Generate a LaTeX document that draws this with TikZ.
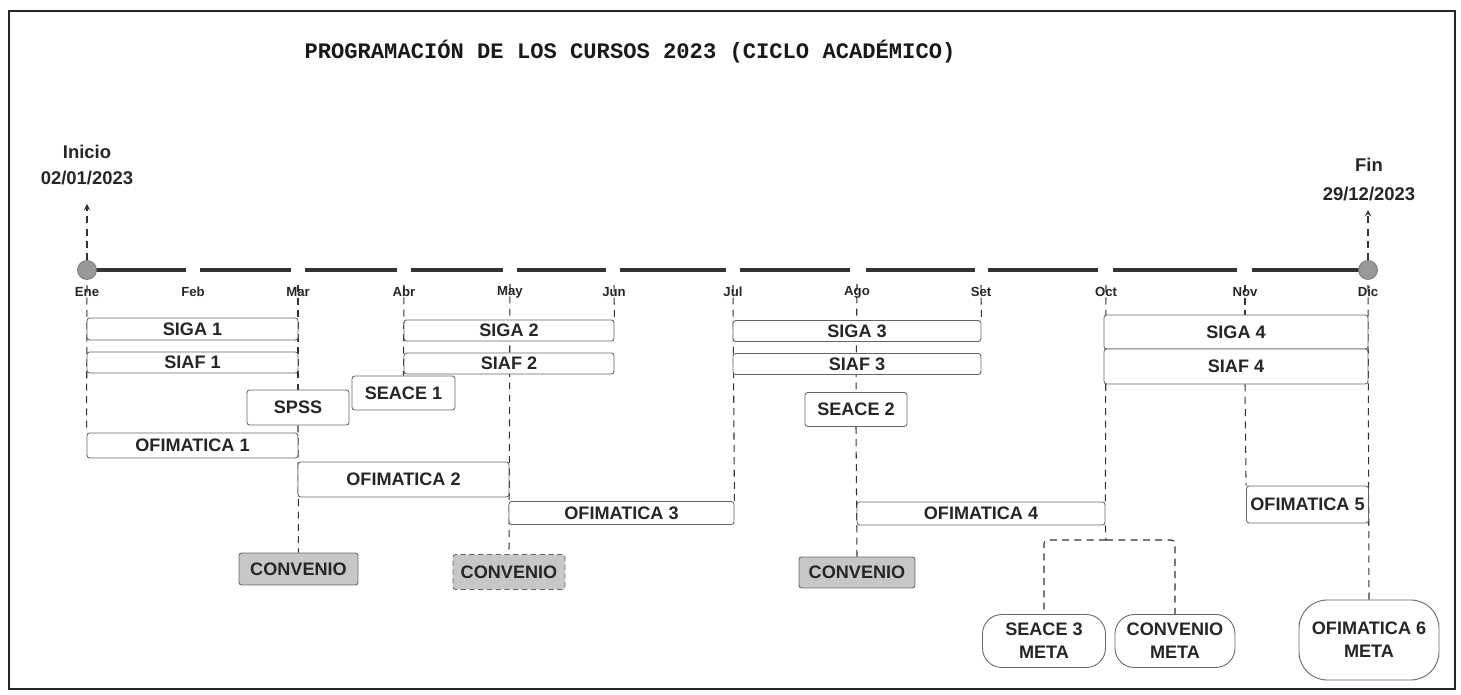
\documentclass[tikz,border=0pt]{standalone}
\usepackage{fontspec}
\setmainfont{Liberation Sans}
\newfontfamily\titlefont{Liberation Mono}
\usepackage{xcolor}
\usetikzlibrary{arrows,
                positioning,
                backgrounds,
                shapes}
\tikzstyle{box} = [draw=black!60, line width=0.5pt, fill=white, rounded corners=1.5pt, inner sep=0pt, text=black!85, font=\bfseries\fontsize{10.3}{12}\selectfont]
\tikzstyle{conv} = [box, fill=black!22]
\tikzstyle{meta} = [box, rounded corners=11pt, align=center, font=\bfseries\fontsize{10.3}{13}\selectfont]
\tikzstyle{month} = [inner sep=1pt, text=black!85, font=\bfseries\fontsize{7.5}{9}\selectfont]
\tikzstyle{datum} = [align=center, text=black!85, font=\bfseries\fontsize{10.5}{15}\selectfont]
\tikzstyle{link} = [black!80, line width=0.6pt, dash pattern=on 4pt off 3pt]
\tikzstyle{arrow} = [link, ->, >=stealth]
\tikzstyle{timeline} = [line width=2.2pt, black!80]

\begin{document}
\begin{tikzpicture}[x=0.02cm, y=-0.02cm]
        \useasboundingbox (0,0) rectangle (1461,695);
        \draw[line width=1.3pt, black!85] (9,11) rectangle (1455,689);

        \node[text=black!90, font=\titlefont\bfseries\fontsize{12.6}{14}\selectfont] (title) at (630,52) {PROGRAMACIÓN DE LOS CURSOS 2023 (CICLO ACADÉMICO)};

        % linea de tiempo
        \foreach \xa/\xb in {95/186, 200/291, 305/397, 411/503, 517/606, 620/726, 740/850, 866/975, 988/1098, 1113/1237, 1252/1360}
            \draw[timeline] (\xa,270) -- (\xb,270);
        \node[circle, fill=black!40, draw=black!55, minimum size=0.38cm, inner sep=0pt] (s) at (87,270) {};
        \node[circle, fill=black!40, draw=black!55, minimum size=0.38cm, inner sep=0pt] (e) at (1368,270) {};

        \node[datum] (ini) at (87,165) {Inicio\\02/01/2023};
        \node[datum, font=\bfseries\fontsize{10.5}{16.5}\selectfont] (fin) at (1369,180) {Fin\\29/12/2023};
        \coordinate (s-top) at (87,204);
        \coordinate (e-top) at (1368,210);
        \draw[arrow] (s) -- (s-top);
        \draw[arrow] (e) -- (e-top);

        % meses
        \node[month] (m1) at (87,292) {Ene};
        \node[month] (m2) at (193,292) {Feb};
        \node[month] (m3) at (298,292) {Mar};
        \node[month] (m4) at (404,292) {Abr};
        \node[month] (m5) at (510,292) {May};
        \node[month] (m6) at (614,292) {Jun};
        \node[month] (m7) at (733,292) {Jul};
        \node[month] (m8) at (857,292) {Ago};
        \node[month] (m9) at (981,292) {Set};
        \node[month] (m10) at (1106,292) {Oct};
        \node[month] (m11) at (1245,292) {Nov};
        \node[month] (m12) at (1368,292) {Dic};

        % cursos
        \node[box, minimum width=4.22cm, minimum height=0.44cm] (siga1) at (192.5,329) {SIGA 1};
        \node[box, minimum width=4.22cm, minimum height=0.42cm] (siaf1) at (192.5,362.5) {SIAF 1};
        \node[box, minimum width=4.2cm, minimum height=0.42cm] (siga2) at (509,330.5) {SIGA 2};
        \node[box, minimum width=4.2cm, minimum height=0.42cm] (siaf2) at (509,363.5) {SIAF 2};
        \node[box, minimum width=2.06cm, minimum height=0.68cm] (seace1) at (403.5,393) {SEACE 1};
        \node[box, minimum width=2.04cm, minimum height=0.7cm] (spss) at (298,407.5) {SPSS};
        \node[box, minimum width=4.22cm, minimum height=0.5cm] (ofi1) at (192.5,445.5) {OFIMATICA 1};
        \node[box, minimum width=4.22cm, minimum height=0.7cm] (ofi2) at (403.5,479.5) {OFIMATICA 2};
        \node[box, minimum width=4.5cm, minimum height=0.46cm] (ofi3) at (621.5,513) {OFIMATICA 3};
        \node[conv, minimum width=2.38cm, minimum height=0.64cm] (conv1) at (298.5,569) {CONVENIO};
        \node[conv, densely dashed, minimum width=2.24cm, minimum height=0.7cm] (conv2) at (509,572) {CONVENIO};

        \node[box, minimum width=4.96cm, minimum height=0.42cm] (siga3) at (857,331) {SIGA 3};
        \node[box, minimum width=4.96cm, minimum height=0.42cm] (siaf3) at (857,364) {SIAF 3};
        \node[box, minimum width=2.04cm, minimum height=0.68cm] (seace2) at (856,409.5) {SEACE 2};
        \node[box, minimum width=4.96cm, minimum height=0.46cm] (ofi4) at (981,513.5) {OFIMATICA 4};
        \node[conv, minimum width=2.32cm, minimum height=0.62cm] (conv3) at (857,572.5) {CONVENIO};

        \node[box, minimum width=5.28cm, minimum height=0.68cm] (siga4) at (1236,332) {SIGA 4};
        \node[box, minimum width=5.28cm, minimum height=0.7cm] (siaf4) at (1236,366.5) {SIAF 4};
        \node[box, minimum width=2.44cm, minimum height=0.74cm] (ofi5) at (1307.5,504.5) {OFIMATICA 5};
        \node[meta, minimum width=2.46cm, minimum height=1.06cm] (meta1) at (1044,641) {SEACE 3\\META};
        \node[meta, minimum width=2.4cm, minimum height=1.06cm] (meta2) at (1175,641) {CONVENIO\\META};
        \node[meta, rounded corners=16pt, minimum width=2.8cm, minimum height=1.6cm] (meta3) at (1369,640) {OFIMATICA 6\\META};
        \coordinate (split) at (1106,540);

        \begin{pgfonlayer}{background}
        \draw[link] (m1.north) -- (ofi1.north west);
        \draw[link] (m3.north) -- (spss.north);
        \draw[link] (spss.south) -- (conv1.north);
        \draw[link] (m4.north) -- (seace1.north);
        \draw[link] (m5.north) -- (conv2.north);
        \draw[link] (m6.north) -- (siga2.north east);
        \draw[link] (m7.north) -- (ofi3.north east);
        \draw[link] (m8.north) -- (seace2.north);
        \draw[link] (seace2.south) -- (conv3.north);
        \draw[link] (m9.north) -- (siga3.north east);
        \draw[link] (m10.north) -- (ofi4.north east);
        \draw[link] (ofi4.south east) -- (split);
        \draw[link, rounded corners=2pt] (split) -| (meta1.north);
        \draw[link, rounded corners=2pt] (split) -| (meta2.north);
        \draw[link] (m11.north) -- (siga4.north -| m11);
        \draw[link] (siaf4.south -| m11) -- (ofi5.north west);
        \draw[link] (m12.north) -- (meta3.north);
        \end{pgfonlayer}
    \end{tikzpicture}
\end{document}
